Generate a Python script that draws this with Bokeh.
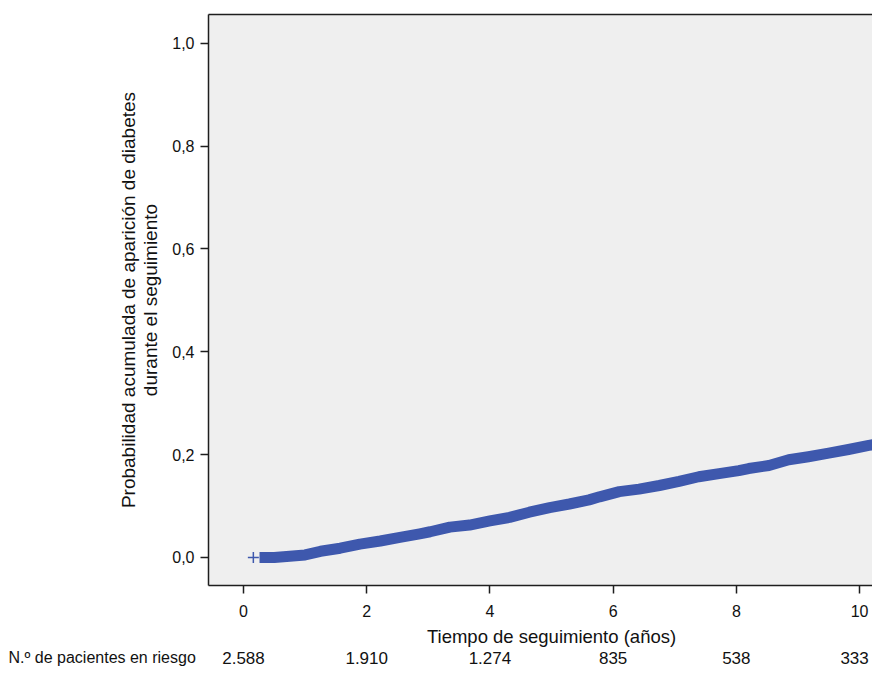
from bokeh.plotting import figure
from bokeh.layouts import column
from bokeh.models import Range1d, LinearAxis, FixedTicker, CustomJSTickFormatter, ColumnDataSource
from bokeh.core.properties import value
from bokeh.embed import file_html
from bokeh.resources import INLINE

# ---- data ----
times = [0.26, 0.50, 0.80, 1.00, 1.25, 1.57, 1.89, 2.22, 2.54, 2.86, 3.03, 3.35,
         3.67, 4.00, 4.32, 4.64, 4.97, 5.29, 5.61, 5.78, 6.10, 6.42, 6.75, 7.07,
         7.39, 7.72, 8.04, 8.20, 8.53, 8.85, 9.17, 9.50, 9.82, 10.15, 10.42]
cum_inc = [0.000, 0.000, 0.003, 0.005, 0.012, 0.018, 0.026, 0.032, 0.039, 0.046,
           0.050, 0.059, 0.063, 0.071, 0.078, 0.088, 0.097, 0.104, 0.112, 0.118,
           0.128, 0.133, 0.140, 0.148, 0.157, 0.163, 0.169, 0.173, 0.179, 0.190,
           0.196, 0.203, 0.210, 0.218, 0.223]
censor_times = [0.16]
censor_inc = [0.0]
x_ticks = [0, 2, 4, 6, 8, 10]
y_ticks = [0.0, 0.2, 0.4, 0.6, 0.8, 1.0]
risk_times = [0, 2, 4, 6, 8, 10]
at_risk = [2588, 1910, 1274, 835, 538, 333]
x_title = "Tiempo de seguimiento (años)"
y_title = "Probabilidad acumulada de aparición de diabetes\ndurante el seguimiento"
risk_title = "N.º de pacientes en riesgo"

FONT = "Liberation Sans"
BLUE = "#3e58ad"
INK = "#1e1e1e"
TXT = "#111111"

X0, X1 = -0.568, 10.21          # main frame x range (208..872 px)
W = 872
LEFT = 208

p = figure(width=W, height=625, output_backend="svg", toolbar_location=None,
           x_range=Range1d(X0, X1), y_range=Range1d(-0.0545, 1.056),
           min_border_left=LEFT, min_border_right=0, min_border_top=14,
           min_border_bottom=40)
p.frame_align = False
p.background_fill_color = "#efefef"
p.border_fill_color = "white"
p.outline_line_color = None
p.grid.visible = False

for ax in (p.xaxis[0], p.yaxis[0]):
    ax.axis_line_color = INK
    ax.axis_line_width = 1.5
    ax.major_tick_line_color = INK
    ax.major_tick_line_width = 1.5
    ax.major_tick_out = 8
    ax.major_tick_in = 0
    ax.minor_tick_line_color = None
    ax.minor_tick_out = 0
    ax.major_label_text_font = FONT
    ax.major_label_text_font_size = "16px"
    ax.major_label_text_color = TXT

p.xaxis[0].ticker = FixedTicker(ticks=x_ticks)
p.xaxis[0].major_label_standoff = 11
p.yaxis[0].ticker = FixedTicker(ticks=y_ticks)
p.yaxis[0].formatter = CustomJSTickFormatter(code="return tick.toFixed(1).replace('.', ',');")
p.yaxis[0].major_label_standoff = 6
p.yaxis[0].axis_label = y_title
p.yaxis[0].axis_label_text_font = FONT
p.yaxis[0].axis_label_text_font_style = "normal"
p.yaxis[0].axis_label_text_font_size = "19px"
p.yaxis[0].axis_label_text_color = TXT
p.yaxis[0].axis_label_text_line_height = 1.08
p.yaxis[0].axis_label_standoff = 8

top = LinearAxis(ticker=FixedTicker(ticks=[]), axis_line_color=INK, axis_line_width=1.5,
                 major_tick_line_color=None, minor_tick_line_color=None,
                 major_tick_out=0, major_tick_in=0, minor_tick_out=0, minor_tick_in=0,
                 major_label_text_font_size="0px", major_label_standoff=0)
p.add_layout(top, "above")

# curve (dense censoring band) and first censor mark
p.line(times, cum_inc, line_width=11, line_color=BLUE, line_cap="butt", line_join="round")
p.scatter(censor_times, censor_inc, marker="cross", size=11, line_width=1.5, line_color=BLUE)

# ---- bottom strip: axis title and number-at-risk row, same x scale ----
px_per_unit = (W - LEFT) / (X1 - X0)
B0 = X0 - LEFT / px_per_unit
q = figure(width=W, height=41, output_backend="svg", toolbar_location=None,
           x_range=Range1d(B0, X1), y_range=Range1d(0, 41),
           x_axis_location=None, y_axis_location=None,
           min_border=0, min_border_left=0, min_border_right=0,
           min_border_top=0, min_border_bottom=0)
q.frame_align = False
q.outline_line_color = None
q.grid.visible = False
q.background_fill_color = "white"
q.border_fill_color = "white"

q.text(x=[5.0], y=[30], text=[x_title], text_align="center", text_baseline="middle",
       text_font=value(FONT), text_font_size="18.5px", text_color=TXT)
q.text(x=[B0 + 8 / px_per_unit], y=[9], text=[risk_title], text_align="left",
       text_baseline="middle", text_font=value(FONT), text_font_size="16px", text_color=TXT)

# keep the last count inside the strip's right edge
offsets = [0] * (len(risk_times) - 1) + [-5]
risk_src = ColumnDataSource(dict(x=risk_times, y=[9] * len(risk_times),
                                 label=[f"{n:,}".replace(",", ".") for n in at_risk],
                                 dx=offsets))
q.text(x="x", y="y", text="label", x_offset="dx", source=risk_src,
       text_align="center", text_baseline="middle", text_font=value(FONT),
       text_font_size="17px", text_color=TXT)

layout = column(p, q, spacing=0)
open("out.html", "w").write(file_html(layout, INLINE))
